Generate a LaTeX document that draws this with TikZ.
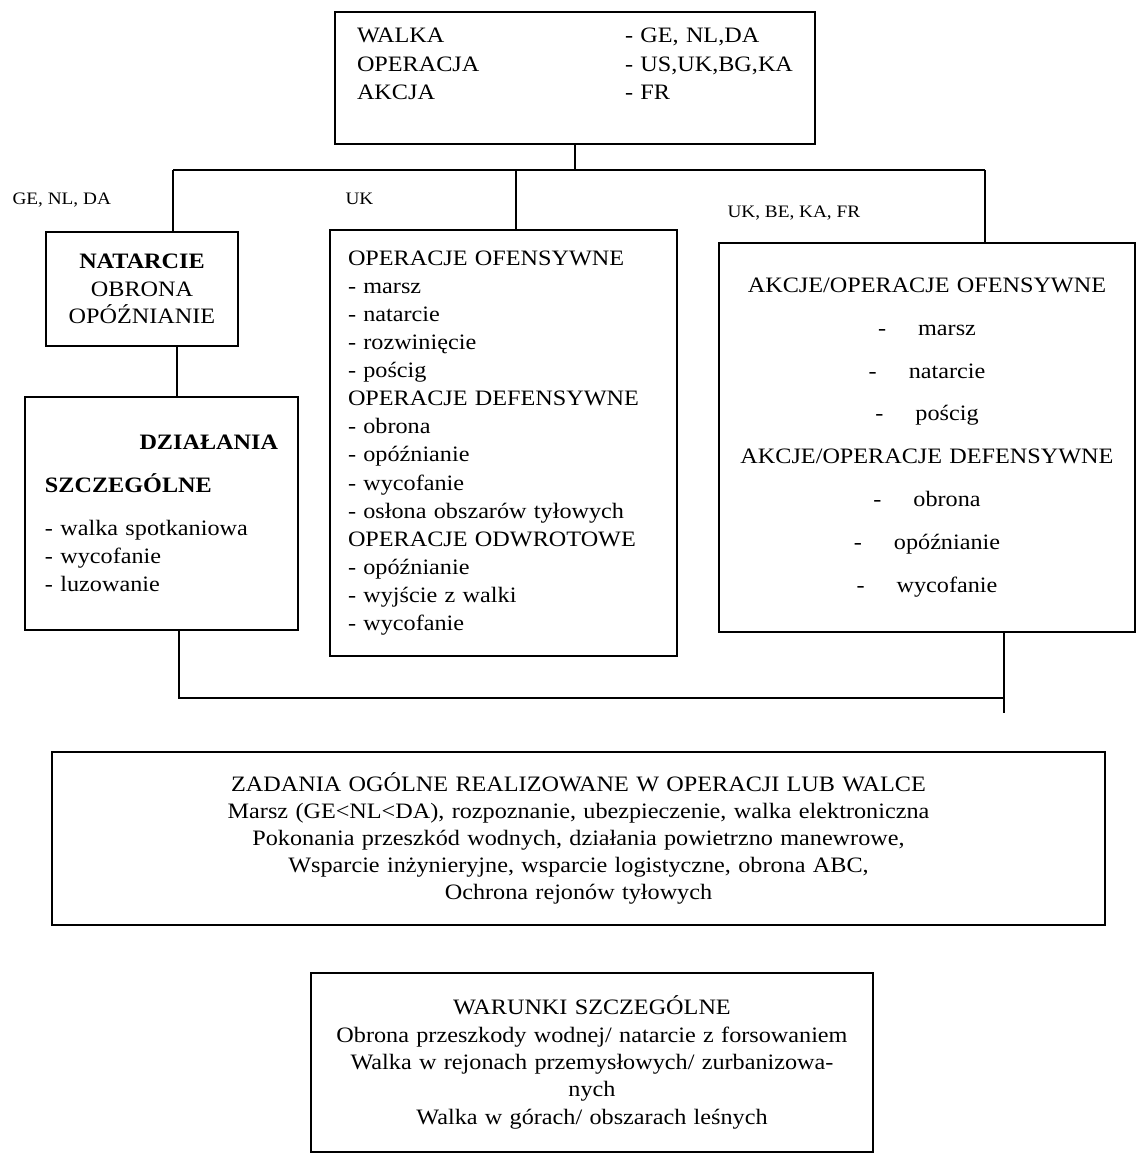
\documentclass[tikz,border=0pt]{standalone}
\usepackage{fontspec}
\setmainfont{Liberation Serif}[FakeStretch=1.1]
\usetikzlibrary{positioning}
\newcommand{\boxfont}{\fontsize{22}{28.1}\selectfont}
\newcommand{\tagfont}{\fontsize{17.5}{20}\selectfont}
\newcommand{\col}[2]{\makebox[268pt][l]{#1}\mbox{#2}}

\begin{document}
\begin{tikzpicture}[x=1pt, y=-1pt, line width=1.1pt,
    box/.style={draw, inner xsep=18pt, inner ysep=0pt, font=\boxfont},
    tag/.style={anchor=base west, inner sep=0pt, font=\tagfont}]
  \useasboundingbox (0,0) rectangle (1136,1155);
  \node[box, inner xsep=22pt, text width=436pt, minimum height=132pt, align=left,
        font=\fontsize{22}{28.5}\selectfont] (top) at (575,78)
    {\col{WALKA}{- GE, NL,DA}\\ \col{OPERACJA}{- US,UK,BG,KA}\\ \col{AKCJA}{- FR}\\ \mbox{}};
  \node[box, on grid, below left=211pt and 433pt of top, inner xsep=10pt, text width=172pt,
        minimum height=114pt, align=center, font=\fontsize{22}{27.5}\selectfont] (nat)
    {\textbf{NATARCIE}\\ OBRONA\\ OPÓŹNIANIE};
  \node[box, on grid, below right=224.5pt and 19.5pt of nat, inner xsep=20pt, text width=233pt,
        minimum height=233pt, align=left, font=\fontsize{22}{28.3}\selectfont] (dzial)
    {\makebox[233pt][r]{\textbf{DZIAŁANIA}}\\[14.5pt] \textbf{SZCZEGÓLNE}\\[14.5pt]
     - walka spotkaniowa\\ - wycofanie\\ - luzowanie};
  \node[box, on grid, below left=365pt and 71.5pt of top, text width=311pt,
        minimum height=426pt, align=left] (ofens)
    {OPERACJE OFENSYWNE\\ - marsz\\ - natarcie\\ - rozwinięcie\\ - pościg\\
     OPERACJE DEFENSYWNE\\ - obrona\\ - opóźnianie\\ - wycofanie\\ - osłona obszarów tyłowych\\
     OPERACJE ODWROTOWE\\ - opóźnianie\\ - wyjście z walki\\ - wycofanie};
  \node[box, on grid, below right=359.5pt and 352pt of top, inner xsep=13pt, text width=390pt,
        minimum height=389pt, align=center, font=\fontsize{22}{42.9}\selectfont] (akcje)
    {AKCJE/OPERACJE OFENSYWNE\\ -\hspace{32pt}marsz\\ -\hspace{32pt}natarcie\\ -\hspace{32pt}pościg\\
     AKCJE/OPERACJE DEFENSYWNE\\ -\hspace{32pt}obrona\\ -\hspace{32pt}opóźnianie\\ -\hspace{32pt}wycofanie};
  \node[box, on grid, below right=760.5pt and 3.5pt of top, inner xsep=20pt, text width=1013pt,
        minimum height=173pt, align=center, font=\fontsize{22}{26.8}\selectfont] (zadania)
    {ZADANIA OGÓLNE REALIZOWANE W OPERACJI LUB WALCE\\
     Marsz (GE<NL<DA), rozpoznanie, ubezpieczenie, walka elektroniczna\\
     Pokonania przeszkód wodnych, działania powietrzno manewrowe,\\
     Wsparcie inżynieryjne, wsparcie logistyczne, obrona ABC,\\
     Ochrona rejonów tyłowych};
  \node[box, on grid, below right=224pt and 13.5pt of zadania, inner xsep=20pt, text width=522pt,
        minimum height=179pt, align=center, font=\fontsize{22}{27.3}\selectfont] (warunki)
    {WARUNKI SZCZEGÓLNE\\
     Obrona przeszkody wodnej/ natarcie z forsowaniem\\
     Walka w rejonach przemysłowych/ zurbanizowa-\\
     nych\\
     Walka w górach/ obszarach leśnych};
  \node[tag] (tagGE) at (12,205) {GE, NL, DA};
  \node[tag] (tagUK) at (345,205) {UK};
  \node[tag] (tagFR) at (727,218) {UK, BE, KA, FR};
  \coordinate (busL) at (173,170);
  \coordinate (busM) at (516,170);
  \coordinate (busR) at (985,170);
  \coordinate (lowL) at (179,698);
  \coordinate (lowR) at (1004,713);
  \draw (top.south) to (top.south |- busL);
  \draw (busL) to (busR);
  \draw (busL) to (busL |- nat.north);
  \draw (busM) to (busM |- ofens.north);
  \draw (busR) to (busR |- akcje.north);
  \draw ([xshift=35pt]nat.south) to ([xshift=35pt]nat.south |- dzial.north);
  \draw (lowL |- dzial.south) to (lowL) to (lowL -| lowR);
  \draw (lowR |- akcje.south) to (lowR);
\end{tikzpicture}
\end{document}
